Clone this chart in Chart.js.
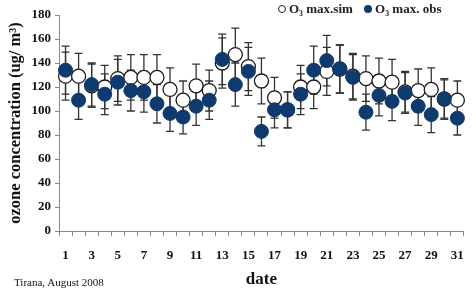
<!DOCTYPE html>
<html>
<head>
<meta charset="utf-8">
<script src="https://cdn.jsdelivr.net/npm/chart.js@4/dist/chart.umd.min.js"></script>
<style>
  body { margin: 0; background: #fff; }
  #wrap { position: relative; width: 476px; height: 292px; }
  #legend { position: absolute; left: 278px; top: 1px; font: bold 13px "Liberation Serif", serif; color: #222; white-space: nowrap; }
  #legend span.dot { display: inline-block; width: 8px; height: 8px; border-radius: 50%; vertical-align: 0px; margin-right: 3px; box-sizing: border-box; }
  #note { position: absolute; left: 14px; top: 276px; font: 11px "Liberation Serif", serif; color: #111; }
</style>
</head>
<body>
<div id="wrap">
  <canvas id="my-chart" width="476" height="292"></canvas>
  <div id="legend">
    <span class="dot" style="border:1px solid #222;background:#fff"></span>O₃ max.sim
    <span class="dot" style="background:#0f3a6e;margin-left:8px"></span>O₃ max. obs
  </div>
  <div id="note">Tirana, August 2008</div>
</div>
<script>
const days = Array.from({ length: 31 }, (_, i) => String(i + 1));

const simValues = [129, 129, 121, 120, 127, 128, 128, 128, 118, 109, 121, 117, 140, 147, 137, 125,
  111, 101, 120, 120, 133, 135, 129, 127, 125, 124, 116, 117, 118, 110, 109];
const simErr = [20, 19, 18, 18, 19, 19, 19, 19, 18, 16, 18, 17, 21, 22, 20, 19,
  17, 15, 18, 18, 20, 20, 19, 19, 19, 19, 17, 18, 18, 17, 16];

const obsValues = [134, 109, 122, 114, 124, 117, 116, 106, 98, 95, 104, 109, 143, 122, 133, 83,
  101, 101, 114, 134, 142, 135, 128, 99, 113, 108, 115, 104, 97, 110, 94];
const obsErr = [20, 16, 18, 17, 19, 17, 17, 16, 15, 14, 16, 16, 21, 18, 20, 12,
  15, 15, 17, 20, 21, 20, 19, 15, 17, 16, 17, 16, 15, 16, 14];

const yTicks = [0, 20, 40, 60, 80, 100, 120, 140, 160, 180];

// error bars drawn behind the markers
const errorBars = {
  id: 'errorBars',
  beforeDatasetsDraw(chart) {
    const ctx = chart.ctx;
    const y = chart.scales.y;
    ctx.save();
    ctx.strokeStyle = '#333';
    ctx.lineWidth = 1.3;
    chart.data.datasets.forEach((ds, di) => {
      const meta = chart.getDatasetMeta(di);
      meta.data.forEach((pt, i) => {
        const v = ds.data[i];
        const e = ds.errors[i];
        const top = y.getPixelForValue(v + e);
        const bot = y.getPixelForValue(v - e);
        ctx.beginPath();
        ctx.moveTo(pt.x, top);
        ctx.lineTo(pt.x, bot);
        ctx.moveTo(pt.x - 4, top);
        ctx.lineTo(pt.x + 4, top);
        ctx.moveTo(pt.x - 4, bot);
        ctx.lineTo(pt.x + 4, bot);
        ctx.stroke();
      });
    });
    ctx.restore();
  }
};

const serif = '"Liberation Serif", "DejaVu Serif", serif';

const ctx = document.getElementById('my-chart');
const myChart = new Chart(ctx, {
  type: 'line',
  data: {
    labels: days,
    datasets: [{
      label: 'O₃ max.sim',
      data: simValues,
      errors: simErr,
      showLine: false,
      pointRadius: 7,
      pointBackgroundColor: '#fff',
      pointBorderColor: '#1a1a1a',
      pointBorderWidth: 1.3,
      order: 2
    }, {
      label: 'O₃ max. obs',
      data: obsValues,
      errors: obsErr,
      showLine: false,
      pointRadius: 7,
      pointBackgroundColor: '#0f3a6e',
      pointBorderColor: '#0f3a6e',
      pointBorderWidth: 1,
      order: 1
    }]
  },
  plugins: [errorBars],
  options: {
    responsive: false,
    animation: false,
    layout: { padding: { top: 15, right: 2, bottom: 2, left: 0 } },
    plugins: {
      legend: { display: false },
      tooltip: { enabled: false }
    },
    scales: {
      x: {
        offset: true,
        grid: { display: true, offset: true, drawOnChartArea: false, tickLength: 5, color: '#888' },
        border: { color: '#888' },
        ticks: {
          autoSkip: false,
          maxRotation: 0,
          padding: 12,
          color: '#111',
          font: { family: serif, size: 13, weight: 'bold' },
          callback: (val, i) => (i % 2 === 0 ? days[i] : '')
        },
        title: {
          display: true,
          text: 'date',
          color: '#111',
          padding: { top: 2, bottom: 0 },
          font: { family: serif, size: 17, weight: 'bold' }
        },
        afterFit: s => { s.height = 59; }
      },
      y: {
        min: 0,
        max: 180,
        afterBuildTicks: s => { s.ticks = yTicks.map(v => ({ value: v })); },
        grid: { display: true, drawOnChartArea: false, tickLength: 4, color: '#888' },
        border: { color: '#888' },
        ticks: {
          padding: 4,
          color: '#111',
          font: { family: serif, size: 13, weight: 'bold' }
        },
        title: {
          display: true,
          text: 'ozone concentration (ug/ m³)',
          color: '#111',
          padding: { top: 6, bottom: 2 },
          font: { family: serif, size: 16.5, weight: 'bold' }
        },
        afterFit: s => { s.width = 59; }
      }
    }
  }
});
</script>
</body>
</html>
